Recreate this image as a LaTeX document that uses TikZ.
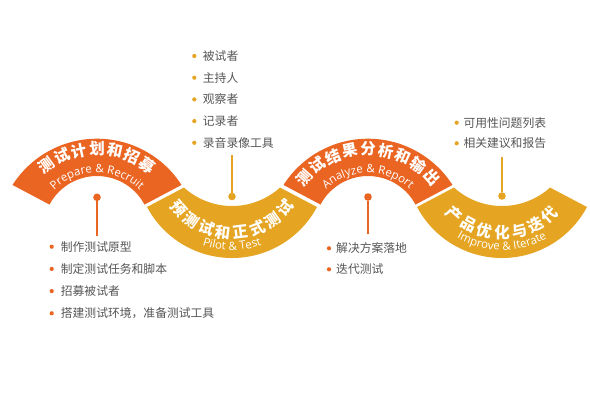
\documentclass[tikz,border=0pt]{standalone}
\usepackage{fontspec}
\setmainfont{Open Sans}
\newfontfamily\cjk{Noto Sans CJK SC}
\usetikzlibrary{calc,decorations.text}
\definecolor{org}{HTML}{EA6422}
\definecolor{yel}{HTML}{E5A523}
\definecolor{txt}{HTML}{555555}
\tikzset{
  ttl/.style={text=white, inner sep=0pt, font=\cjk\bfseries\fontsize{15.5}{16}\selectfont},
  itm/.style={anchor=west, inner sep=0pt, text=txt, font=\cjk\fontsize{11.8}{13}\selectfont},
  bul/.style={circle, inner sep=0pt, minimum size=4.2pt},
  dotn/.style={circle, inner sep=0pt, minimum size=7.6pt},
  stem/.style={line width=1.1pt},
}
\begin{document}
\begin{tikzpicture}[x=1pt,y=1pt]
\useasboundingbox (0,0) rectangle (590,400);
% humps
\foreach \hx in {97,368} {
  \fill[org] (\hx,161) ++(147.4:100.3) arc[start angle=147.4,end angle=32.6,radius=100.3]
    -- ($(\hx,170.2)+(28:53.8)$) arc[start angle=28,end angle=152,radius=53.8] -- cycle;
}
% valleys
\foreach \vx in {232,502} {
  \fill[yel] (\vx,238.3) ++(208.06:96.3) arc[start angle=208.06,end angle=331.94,radius=96.3]
    -- ($(\vx,265.8)+(312:71.8)$) arc[start angle=312,end angle=228,radius=71.8] -- cycle;
}
% titles
\foreach \c [count=\i] in {测,试,计,划,和,招,募}
  \node[ttl, rotate={(4-\i)*12}] (ta\i) at ($(97,165)+({90+(4-\i)*12}:86)$) {\c};
\foreach \c [count=\i] in {测,试,结,果,分,析,和,输,出}
  \node[ttl, rotate={(5-\i)*12}] (tc\i) at ($(368,165)+({90+(5-\i)*12}:86)$) {\c};
\foreach \c [count=\i] in {预,测,试,和,正,式,测,试}
  \node[ttl, rotate={(\i-4.5)*14}] (tb\i) at ($(232,238.3)+({270+(\i-4.5)*14}:71)$) {\c};
\foreach \c [count=\i] in {产,品,优,化,与,迭,代}
  \node[ttl, rotate={(\i-4)*14}] (td\i) at ($(502,238.3)+({270+(\i-4)*14}:71)$) {\c};
% english
\path[decorate,decoration={text along path, text align=center,
  text={|\color{white}\fontsize{11.5}{11.5}\selectfont|Prepare {\&} Recruit}}]
  (97,165) ++(160:62) arc[start angle=160,end angle=20,radius=62];
\path[decorate,decoration={text along path, text align=center,
  text={|\color{white}\fontsize{11.5}{11.5}\selectfont|Analyze {\&} Report}}]
  (368,165) ++(160:62) arc[start angle=160,end angle=20,radius=62];
\path[decorate,decoration={text along path, text align=center,
  text={|\color{white}\fontsize{11.5}{11.5}\selectfont|Pilot {\&} Test}}]
  (232,238.3) ++(200:88.5) arc[start angle=200,end angle=340,radius=88.5];
\path[decorate,decoration={text along path, text align=center,
  text={|\color{white}\fontsize{11.5}{11.5}\selectfont|Improve {\&} Iterate}}]
  (502,238.3) ++(200:88.5) arc[start angle=200,end angle=340,radius=88.5];
% dots and stems
\node[dotn, fill=org] (d1) at (97,202.7) {};
\coordinate (e1) at (97,164);
\draw[stem, org] (d1) -- (e1);
\node[dotn, fill=yel] (d2) at (232,203.5) {};
\coordinate (e2) at (232,245);
\draw[stem, yel] (d2) -- (e2);
\node[dotn, fill=org] (d3) at (368,203) {};
\coordinate (e3) at (368,166.5);
\draw[stem, org] (d3) -- (e3);
\node[dotn, fill=yel] (d4) at (502,204) {};
\coordinate (e4) at (502,243);
\draw[stem, yel] (d4) -- (e4);
% list 1
\foreach \t/\y [count=\i] in {制作测试原型/153.3, 制定测试任务和脚本/131.1, 招募被试者/108.9, 搭建测试环境，准备测试工具/86.7} {
  \node[bul, fill=org] (ba\i) at (51.7,\y) {};
  \node[itm] (la\i) at (60.7,\y) {\t};
}
% list 2
\foreach \t/\y [count=\i] in {被试者/344, 主持人/322.3, 观察者/300.6, 记录者/278.9, 录音录像工具/257.2} {
  \node[bul, fill=yel] (bb\i) at (194.3,\y) {};
  \node[itm] (lb\i) at (202.7,\y) {\t};
}
% list 3
\foreach \t/\y [count=\i] in {解决方案落地/151.7, 迭代测试/130.7} {
  \node[bul, fill=org] (bc\i) at (329,\y) {};
  \node[itm] (lc\i) at (336,\y) {\t};
}
% list 4
\foreach \t/\y [count=\i] in {可用性问题列表/277.3, 相关建议和报告/256.7} {
  \node[bul, fill=yel] (bd\i) at (456.7,\y) {};
  \node[itm] (ld\i) at (463.3,\y) {\t};
}
\end{tikzpicture}
\end{document}
